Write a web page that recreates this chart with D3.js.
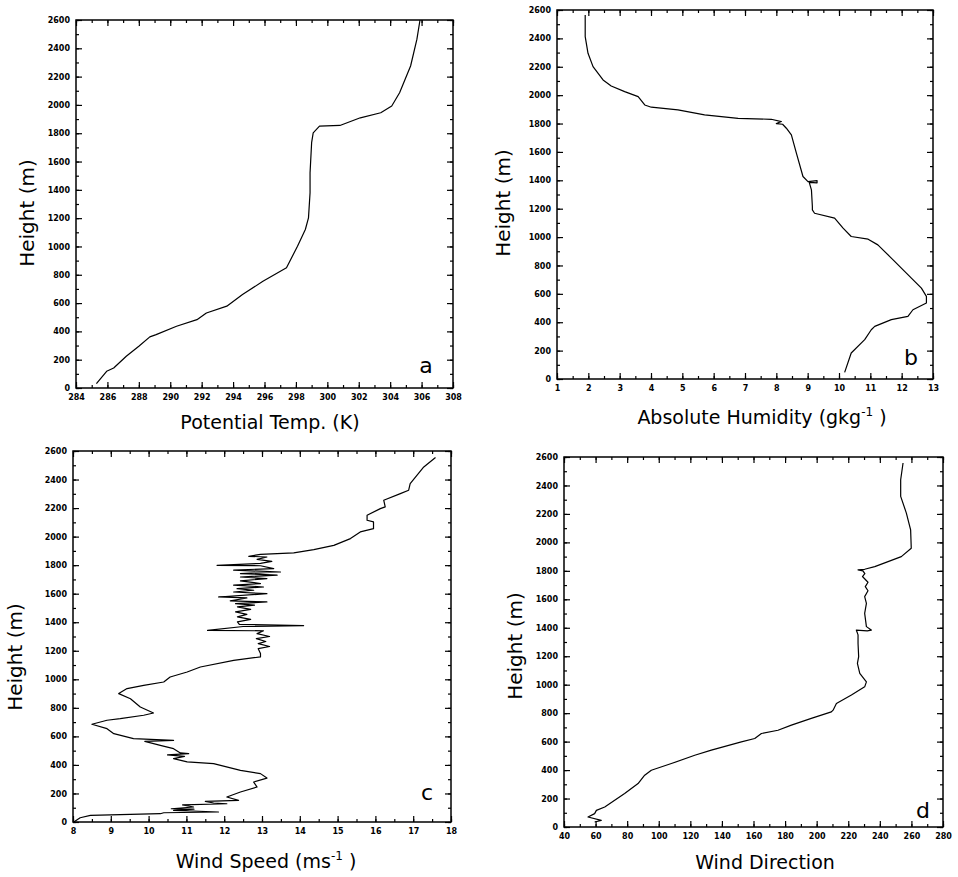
<!DOCTYPE html>
<html>
<head>
<meta charset="utf-8">
<script src="https://cdn.jsdelivr.net/npm/d3@7"></script>
<style>
  body { margin: 0; background: #fff; }
  svg text { font-family: "DejaVu Sans", Verdana, sans-serif; }
  .tick text { font-size: 8px; font-weight: bold; }
</style>
</head>
<body>
<script>
// height axis shared by all four profiles
let heightTicks = d3.range(0, 2601, 200);

// a) potential temperature (K) vs height (m)
let thetaK = [285.3, 285.95, 286.4, 287.2, 288.0, 288.7, 289.1, 290.4, 291.7, 292.3, 293.6, 294.6, 295.9, 297.4,
  298.1, 298.6, 298.8, 298.9, 298.9, 299.0, 299.1, 299.5, 300.8, 302.1, 303.4, 304.1, 304.6, 305.3, 305.7, 305.9];
let thetaZ = [31, 118, 141, 224, 295, 361, 377, 436, 483, 530, 578, 660, 754, 849,
  1002, 1120, 1202, 1379, 1520, 1733, 1803, 1850, 1855, 1909, 1945, 1992, 2086, 2275, 2463, 2600];
let thetaTicks = d3.range(284, 309, 2);

// b) absolute humidity (g/kg)
let humQ = [1.9, 1.9, 1.99, 2.15, 2.47, 2.73, 3.16, 3.59, 3.8, 4.01, 4.86, 5.71, 6.78, 7.84, 8.16, 8.0, 8.2, 8.32, 8.48, 8.64,
  8.85, 9.01, 9.3, 9.3, 9.05, 9.12, 9.15, 9.15, 9.22, 9.86, 10.13, 10.39, 10.93, 11.24, 11.67, 12.31, 12.63, 12.79, 12.79,
  12.36, 12.2, 11.67, 11.14, 11.03, 10.82, 10.39, 10.18];
let humZ = [2565, 2412, 2295, 2201, 2107, 2065, 2025, 1990, 1931, 1915, 1896, 1861, 1837, 1830, 1814, 1800, 1795, 1767, 1720, 1591,
  1427, 1391, 1398, 1382, 1385, 1333, 1215, 1192, 1168, 1133, 1063, 1004, 985, 945, 852, 711, 640, 582, 535,
  488, 441, 418, 371, 347, 277, 183, 47];
let humTicks = d3.range(1, 14, 1);

// c) wind speed (m/s)
let spdU = [17.59, 17.28, 16.92, 16.88, 16.66, 16.22, 16.26, 16.13, 15.78, 15.78, 15.95, 15.95, 15.6, 15.34, 14.9, 14.37, 13.84,
  12.96, 12.65, 13.13, 12.87, 13.26, 12.96, 11.81, 12.96, 13.31, 12.25, 13.49, 12.43, 13.4, 12.43, 13.13, 12.43, 12.96, 12.25,
  13.04, 12.34, 12.78, 12.25, 13.13, 11.85, 12.6, 12.16, 13.13, 12.3, 12.8, 12.35, 12.7, 12.3, 12.6, 12.35, 12.7, 12.35, 12.4,
  14.1, 12.5, 11.56, 13.04, 12.87, 13.2, 12.85, 13.1, 12.9, 13.2, 12.9, 12.96, 12.96, 12.25, 11.37, 11.02, 10.57, 10.4, 9.87,
  9.43, 9.21, 9.52, 9.78, 10.13, 9.87, 9.25, 8.9, 8.5, 8.9, 9.08, 9.6, 10.66, 9.9, 10.31, 10.66, 10.84, 11.06, 10.5, 10.95,
  10.66, 11.02, 11.72, 12.43, 12.96, 13.13, 12.78, 12.87, 12.43, 12.07, 12.38, 11.5, 11.72, 12.07, 10.9, 11.19, 10.6, 11.2,
  10.66, 11.85, 10.4, 10.31, 8.46, 8.19, 8.02];
let spdZ = [2554, 2488, 2371, 2325, 2301, 2255, 2208, 2196, 2150, 2115, 2103, 2056, 2033, 1986, 1939, 1909, 1886,
  1876, 1862, 1857, 1840, 1827, 1812, 1799, 1796, 1776, 1765, 1752, 1741, 1730, 1717, 1706, 1690, 1671, 1660,
  1647, 1635, 1624, 1612, 1600, 1577, 1570, 1550, 1542, 1530, 1520, 1507, 1490, 1472, 1455, 1437, 1420, 1402, 1385,
  1376, 1370, 1343, 1340, 1320, 1300, 1285, 1265, 1250, 1230, 1215, 1180, 1157, 1133, 1086, 1051, 1016, 981, 958,
  935, 900, 864, 806, 764, 748, 724, 713, 685, 654, 619, 584, 572, 565, 537, 514, 484, 479, 470, 460,
  444, 421, 409, 362, 339, 308, 280, 245, 210, 175, 152, 145, 133, 128, 120, 105, 93, 90,
  82, 70, 65, 58, 47, 30, 0];
let spdTicks = d3.range(8, 19, 1);

// d) wind direction (deg)
let dirD = [254.7, 253.2, 253.2, 256.8, 259.5, 259.9, 253.6, 245.2, 236.8, 230.4, 226.2, 229.3, 230.5, 229, 232.5, 230.8, 232.5,
  230.4, 231.5, 230.4, 231, 231.5, 234.6, 232, 225.1, 226.2, 226.2, 226.6, 225.8, 227.3, 231.5, 230.4, 222, 212.5, 210.4,
  209.3, 196.6, 184, 175.5, 165, 160.8, 152.3, 133.3, 122.8, 108, 95.3, 91.1, 86.9, 78.4, 65.8, 60.5, 59.4, 55.2, 63.6, 59.4];
let dirZ = [2558, 2440, 2323, 2206, 2088, 1959, 1900, 1865, 1830, 1811, 1807, 1800, 1780, 1760, 1720, 1689, 1660,
  1619, 1572, 1501, 1450, 1408, 1384, 1378, 1384, 1350, 1290, 1197, 1150, 1079, 1020, 985, 927, 868, 821,
  809, 763, 716, 680, 657, 622, 598, 540, 504, 446, 399, 364, 305, 235, 141, 117, 94, 70, 47, 35];
let dirTicks = d3.range(40, 281, 20);

let svg = d3.select("body").append("svg")
    .attr("width", 958)
    .attr("height", 877);

function drawPanel(p) {
    let x = d3.scaleLinear().domain(p.xDomain).range([p.left, p.right]);
    let y = d3.scaleLinear().domain([0, 2600]).range([p.bottom, p.top]);
    let g = svg.append("g");

    // minor ticks
    let xMinor = d3.range(p.xDomain[0], p.xDomain[1] + 1e-9, p.xMinor);
    let yMinor = d3.range(0, 2601, 100);
    g.append("g").attr("transform", "translate(0," + p.bottom + ")")
        .call(d3.axisBottom(x).tickValues(xMinor).tickSize(-3).tickFormat(""));
    g.append("g").attr("transform", "translate(0," + p.top + ")")
        .call(d3.axisTop(x).tickValues(xMinor).tickSize(-3).tickFormat(""));
    g.append("g").attr("transform", "translate(" + p.left + ",0)")
        .call(d3.axisLeft(y).tickValues(yMinor).tickSize(-3).tickFormat(""));
    g.append("g").attr("transform", "translate(" + p.right + ",0)")
        .call(d3.axisRight(y).tickValues(yMinor).tickSize(-3).tickFormat(""));

    // major ticks + labels
    g.append("g").attr("transform", "translate(0," + p.bottom + ")")
        .call(d3.axisBottom(x).tickValues(p.xTicks).tickSize(-6).tickPadding(6).tickFormat(d3.format("d")));
    g.append("g").attr("transform", "translate(0," + p.top + ")")
        .call(d3.axisTop(x).tickValues(p.xTicks).tickSize(-6).tickFormat(""));
    g.append("g").attr("transform", "translate(" + p.left + ",0)")
        .call(d3.axisLeft(y).tickValues(heightTicks).tickSize(-6).tickPadding(6).tickFormat(d3.format("d")));
    g.append("g").attr("transform", "translate(" + p.right + ",0)")
        .call(d3.axisRight(y).tickValues(heightTicks).tickSize(-6).tickFormat(""));

    g.selectAll(".domain").remove();
    g.selectAll(".tick line").attr("stroke", "#000").attr("stroke-width", 1.2);
    g.selectAll(".tick text").attr("fill", "#000");

    g.append("rect")
        .attr("x", p.left).attr("y", p.top)
        .attr("width", p.right - p.left).attr("height", p.bottom - p.top)
        .attr("fill", "none").attr("stroke", "#000").attr("stroke-width", 1.5);

    let pts = p.xs.map(function(v, i) { return [v, p.zs[i]]; });
    let line = d3.line()
        .x(function(d) { return x(d[0]); })
        .y(function(d) { return y(d[1]); });
    g.append("path")
        .datum(pts)
        .attr("d", line)
        .attr("fill", "none")
        .attr("stroke", "#000")
        .attr("stroke-width", 1.2)
        .attr("stroke-linejoin", "round");

    // axis titles
    let xt = g.append("text")
        .attr("x", p.xTitlePos[0]).attr("y", p.xTitlePos[1])
        .attr("text-anchor", "middle")
        .attr("font-size", "19px")
        .text(p.xTitle);
    if (p.xSup) {
        xt.append("tspan").attr("font-size", "12px").attr("dy", "-8").text(p.xSup);
        xt.append("tspan").attr("dy", "8").text(" )");
    }
    g.append("text")
        .attr("transform", "translate(" + p.yTitlePos[0] + "," + p.yTitlePos[1] + ") rotate(-90)")
        .attr("text-anchor", "middle")
        .attr("font-size", "20px")
        .text("Height (m)");

    g.append("text")
        .attr("x", p.letterPos[0]).attr("y", p.letterPos[1])
        .attr("text-anchor", "middle")
        .attr("font-size", "22px")
        .text(p.letter);
}

drawPanel({ xDomain: [284, 308], xTicks: thetaTicks, xMinor: 1, xs: thetaK, zs: thetaZ,
    left: 76, right: 453, top: 20, bottom: 388,
    xTitle: "Potential Temp. (K)", xTitlePos: [270, 429], yTitlePos: [34, 213],
    letter: "a", letterPos: [426, 373] });

drawPanel({ xDomain: [1, 13], xTicks: humTicks, xMinor: 0.5, xs: humQ, zs: humZ,
    left: 557, right: 933, top: 10, bottom: 379,
    xTitle: "Absolute Humidity (gkg", xSup: "-1", xTitlePos: [762, 424], yTitlePos: [510, 203],
    letter: "b", letterPos: [911, 365] });

drawPanel({ xDomain: [8, 18], xTicks: spdTicks, xMinor: 0.5, xs: spdU, zs: spdZ,
    left: 73, right: 451, top: 451, bottom: 822,
    xTitle: "Wind Speed (ms", xSup: "-1", xTitlePos: [266, 868], yTitlePos: [22, 657],
    letter: "c", letterPos: [427, 800] });

drawPanel({ xDomain: [40, 280], xTicks: dirTicks, xMinor: 10, xs: dirD, zs: dirZ,
    left: 564, right: 943, top: 457, bottom: 827,
    xTitle: "Wind Direction", xTitlePos: [765, 869], yTitlePos: [522, 646],
    letter: "d", letterPos: [923, 818] });
</script>
</body>
</html>
